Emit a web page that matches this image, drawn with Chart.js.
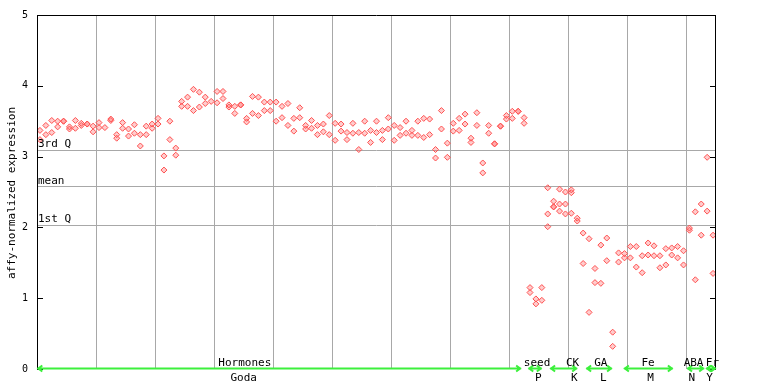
<!DOCTYPE html>
<html>
<head>
<meta charset="utf-8">
<script src="https://cdn.jsdelivr.net/npm/chart.js@4.4.1/dist/chart.umd.min.js"></script>
<style>
  body { margin: 0; background: #fff; }
  canvas { display: block; }
</style>
</head>
<body>
<canvas id="exprChart" width="768" height="384"></canvas>
<script>
// replicate values per sample (115 samples, left to right)
const rep1 = [
  3.37, 3.44, 3.51, 3.50, 3.50, 3.42, 3.51, 3.47, 3.46, 3.43,
  3.48, 3.41, 3.53, 3.31, 3.48, 3.39, 3.45, 3.31, 3.43, 3.46,
  3.54, 3.01, 3.50, 3.12, 3.78, 3.84, 3.95, 3.91, 3.84, 3.78,
  3.92, 3.92, 3.73, 3.71, 3.73, 3.54, 3.85, 3.84, 3.77, 3.77,
  3.77, 3.71, 3.75, 3.54, 3.69, 3.44, 3.51, 3.44, 3.46, 3.58,
  3.47, 3.46, 3.34, 3.47, 3.34, 3.50, 3.37, 3.50, 3.37, 3.55,
  3.44, 3.41, 3.50, 3.37, 3.50, 3.54, 3.53, 3.10, 3.65, 3.19,
  3.47, 3.54, 3.60, 3.26, 3.62, 2.91, 3.44, 3.18, 3.43, 3.58,
  3.64, 3.64, 3.55, 1.15, 0.99, 1.15, 2.56, 2.37, 2.54, 2.50,
  2.53, 2.13, 1.92, 1.84, 1.42, 1.75, 1.85, 0.52, 1.64, 1.63,
  1.73, 1.73, 1.60, 1.78, 1.74, 1.60, 1.70, 1.71, 1.73, 1.67,
  1.99, 2.22, 2.33, 2.99, 1.89
];
const rep2 = [
  3.24, 3.31, 3.34, 3.42, 3.50, 3.39, 3.40, 3.44, 3.46, 3.35,
  3.41, null, 3.51, 3.26, 3.40, 3.29, 3.33, 3.15, 3.31, 3.40,
  3.46, 2.81, 3.24, 3.02, 3.71, 3.71, 3.65, 3.70, 3.75, null,
  3.76, 3.82, 3.70, 3.61, 3.73, 3.49, 3.61, 3.58, 3.65, 3.65,
  3.50, 3.55, 3.44, 3.36, 3.55, 3.39, 3.40, 3.31, 3.35, 3.31,
  3.23, 3.36, 3.24, 3.33, 3.10, 3.33, 3.20, 3.34, 3.24, 3.39,
  3.23, 3.30, 3.33, 3.30, 3.30, 3.27, 3.31, 2.98, 3.39, 2.99,
  3.36, 3.37, 3.46, 3.20, 3.44, 2.77, 3.33, 3.18, 3.43, 3.53,
  3.54, 3.64, 3.47, 1.08, 0.92, 0.97, 2.19, 2.29, 2.33, 2.33,
  2.49, 2.09, 1.49, 0.80, 1.22, 1.21, 1.53, 0.32, 1.51, 1.57,
  1.57, 1.44, 1.36, 1.61, 1.60, 1.43, 1.47, 1.61, 1.57, 1.47,
  1.96, 1.26, 1.89, 2.23, 1.35
];
// third replicate only exists for a few CK samples
const rep3Samples = [86, 87, 88, 89, 90];
const rep3 = [2.01, 2.29, 2.23, 2.19, 2.20];

const yTicks = [0, 1, 2, 3, 4, 5];
const xGridAt = [10, 20, 30, 40, 50, 60, 70, 80, 90, 100, 110];

const quartileNames = ['3rd Q', 'mean', '1st Q'];
const quartileValues = [3.10, 2.58, 2.035];

// groups along the bottom (in sample units)
const groupNames = ['Hormones', 'seed', 'CK', 'GA', 'Fe', 'ABA', 'Fr'];
const groupFrom = [0.05, 83.2, 86.9, 93.0, 99.4, 110.1, 113.3];
const groupTo = [82.0, 85.5, 91.5, 97.4, 107.7, 113.0, 115.0];
const groupLabelAt = [35.2, 84.7, 90.7, 95.5, 103.5, 111.2, 114.4];
const subNames = ['Goda', 'P', 'K', 'L', 'M', 'N', 'Y'];
const subLabelAt = [35.0, 84.9, 91.0, 95.9, 103.9, 110.9, 113.9];

const MONO = '"DejaVu Sans Mono", "Liberation Mono", monospace';

function toPoints(arr) {
  return arr.map((v, i) => ({ x: i + 0.5, y: v })).filter(p => p.y !== null);
}

const pointStyle = {
  pointStyle: 'rectRot',
  pointRadius: 3,
  borderWidth: 1,
  borderColor: '#ff5050',
  backgroundColor: 'rgba(255,110,110,0.35)',
  showLine: false
};

const frame = {
  id: 'frame',
  beforeDatasetsDraw(chart) {
    const { ctx, chartArea: a, scales: { y } } = chart;
    ctx.save();
    ctx.strokeStyle = '#a8a8a8';
    ctx.lineWidth = 1;
    quartileValues.forEach(v => {
      const py = Math.round(y.getPixelForValue(v)) + 0.5;
      ctx.beginPath();
      ctx.moveTo(a.left, py);
      ctx.lineTo(a.right, py);
      ctx.stroke();
    });
    ctx.restore();
  },
  afterDatasetsDraw(chart) {
    const { ctx, chartArea: a, scales: { x, y } } = chart;
    ctx.save();

    // quartile labels
    ctx.fillStyle = '#000';
    ctx.font = '11px ' + MONO;
    ctx.textAlign = 'left';
    ctx.textBaseline = 'alphabetic';
    quartileValues.forEach((v, i) => {
      ctx.fillText(quartileNames[i], a.left + 1, y.getPixelForValue(v) - 2.5);
    });

    // box
    ctx.strokeStyle = '#000';
    ctx.lineWidth = 1;
    ctx.beginPath();
    ctx.moveTo(a.left + 0.5, a.bottom);
    ctx.lineTo(a.left + 0.5, a.top + 0.5);
    ctx.lineTo(a.right - 0.5, a.top + 0.5);
    ctx.lineTo(a.right - 0.5, a.bottom);
    ctx.stroke();

    // inward ticks on both sides
    yTicks.forEach(v => {
      const py = Math.round(y.getPixelForValue(v)) + 0.5;
      ctx.beginPath();
      ctx.moveTo(a.left, py);
      ctx.lineTo(a.left + 6, py);
      ctx.moveTo(a.right - 6, py);
      ctx.lineTo(a.right, py);
      ctx.stroke();
    });

    // axis title
    ctx.save();
    ctx.translate(12, (a.top + a.bottom) / 2 + 1);
    ctx.rotate(-Math.PI / 2);
    ctx.textAlign = 'center';
    ctx.textBaseline = 'middle';
    ctx.fillText('affy-normalized expression', 0, 0);
    ctx.restore();

    // group arrows
    const gy = a.bottom - 0.5;
    ctx.strokeStyle = '#3cf03c';
    ctx.lineWidth = 2;
    groupNames.forEach((g, i) => {
      const x0 = x.getPixelForValue(groupFrom[i]);
      const x1 = x.getPixelForValue(groupTo[i]);
      ctx.beginPath();
      ctx.moveTo(x0, gy);
      ctx.lineTo(x1, gy);
      ctx.moveTo(x0 + 5, gy - 3);
      ctx.lineTo(x0 + 1, gy);
      ctx.lineTo(x0 + 5, gy + 3);
      ctx.moveTo(x1 - 5, gy - 3);
      ctx.lineTo(x1 - 1, gy);
      ctx.lineTo(x1 - 5, gy + 3);
      ctx.stroke();
    });

    // group labels
    ctx.fillStyle = '#000';
    ctx.textAlign = 'center';
    ctx.textBaseline = 'alphabetic';
    groupNames.forEach((g, i) => {
      ctx.fillText(g, x.getPixelForValue(groupLabelAt[i]), a.bottom - 3);
    });
    subNames.forEach((s, i) => {
      ctx.fillText(s, x.getPixelForValue(subLabelAt[i]), a.bottom + 12);
    });

    ctx.restore();
  }
};

new Chart(document.getElementById('exprChart'), {
  type: 'scatter',
  data: {
    datasets: [
      Object.assign({ data: toPoints(rep1) }, pointStyle),
      Object.assign({ data: toPoints(rep2) }, pointStyle),
      Object.assign({ data: rep3.map((v, i) => ({ x: rep3Samples[i] + 0.5, y: v })) }, pointStyle)
    ]
  },
  options: {
    responsive: false,
    animation: false,
    layout: { padding: { left: 0, right: 52, top: 14, bottom: 15 } },
    plugins: { legend: { display: false }, tooltip: { enabled: false } },
    scales: {
      x: {
        type: 'linear',
        min: 0,
        max: 115,
        afterBuildTicks: s => { s.ticks = xGridAt.map(v => ({ value: v })); },
        afterFit: s => { s.height = 0; },
        ticks: { display: false },
        grid: { color: '#a8a8a8', drawTicks: false },
        border: { display: false }
      },
      y: {
        min: 0,
        max: 5,
        afterBuildTicks: s => { s.ticks = yTicks.map(v => ({ value: v })); },
        afterFit: s => { s.width = 37; },
        ticks: { padding: 9, color: '#000', font: { family: MONO, size: 10 } },
        grid: { display: false, drawTicks: false },
        border: { display: false }
      }
    }
  },
  plugins: [frame]
});
</script>
</body>
</html>
